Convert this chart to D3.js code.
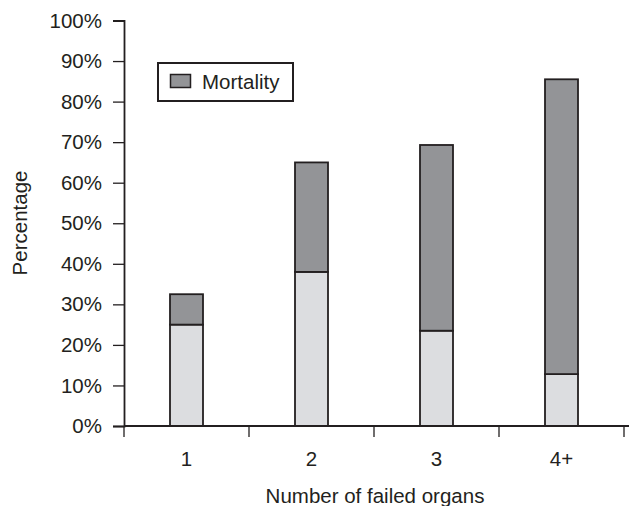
<!DOCTYPE html>
<html>
<head>
<meta charset="utf-8">
<script src="https://cdn.jsdelivr.net/npm/d3@7"></script>
<style>
  html, body { margin: 0; padding: 0; background: #fff; }
  svg { display: block; }
  text { font-family: "Liberation Sans", Arial, sans-serif; fill: #231f20; }
</style>
</head>
<body>
<svg id="chart" width="629" height="506"></svg>
<script>
// Organ failure count vs. percentage of patients
const categories = ["1", "2", "3", "4+"];
const survivedPart = [25, 38, 23.5, 12.8];   // lower (light) segment
const mortalityPart = [7.5, 27, 45.8, 72.7]; // upper (dark) segment
const yTicks = [0, 10, 20, 30, 40, 50, 60, 70, 80, 90, 100];

const svg = d3.select("#chart");
const ink = "#231f20";
const fontSize = 20.5;
const W = 629;
const plotLeft = 124, plotRight = 624, plotTop = 20.5, baseY = 426;

const band = d3.scaleBand().domain(categories).range([plotLeft, plotRight]);
const y = d3.scaleLinear().domain([0, 100]).range([baseY, plotTop]);

// stacked rows
const rows = categories.map((c, i) => ({ cat: c, low: survivedPart[i], high: mortalityPart[i] }));
const stack = d3.stack().keys(["low", "high"])(rows);
const fills = { low: "#dcdde0", high: "#939497" };
const barW = 33;

const g = svg.append("g");
stack.forEach(layer => {
  g.selectAll(null).data(layer).enter().append("rect")
    .attr("x", d => band(d.data.cat) + band.bandwidth() / 2 - barW / 2)
    .attr("width", barW)
    .attr("y", d => y(d[1]))
    .attr("height", d => y(d[0]) - y(d[1]))
    .attr("fill", fills[layer.key])
    .attr("stroke", ink)
    .attr("stroke-width", 1.8);
});

// y axis
const yAxis = svg.append("g")
  .attr("transform", `translate(${plotLeft},0)`)
  .call(d3.axisLeft(y).tickValues(yTicks).tickSize(11).tickPadding(11).tickFormat(d => d + "%"));
yAxis.select(".domain").attr("stroke", ink).attr("stroke-width", 1.8);
yAxis.selectAll(".tick line").attr("stroke", ink).attr("stroke-width", 1.3);
yAxis.selectAll(".tick text").attr("font-size", fontSize).attr("fill", ink)
  .attr("font-family", "Liberation Sans, Arial, sans-serif");

// x axis: ticks at band boundaries, labels at band centres
const xAxisG = svg.append("g").attr("transform", `translate(0,${baseY})`);
xAxisG.append("line")
  .attr("x1", plotLeft).attr("x2", W)
  .attr("stroke", ink).attr("stroke-width", 1.8);
const boundaries = categories.map(c => band(c)).concat([band.range()[1]]);
xAxisG.selectAll(".xt").data(boundaries).enter().append("line")
  .attr("x1", d => d).attr("x2", d => d)
  .attr("y1", 0).attr("y2", 11)
  .attr("stroke", ink).attr("stroke-width", 1.3);
xAxisG.selectAll(".xl").data(categories).enter().append("text")
  .attr("x", d => band(d) + band.bandwidth() / 2)
  .attr("y", 39.5)
  .attr("text-anchor", "middle")
  .attr("font-size", fontSize)
  .text(d => d);

// axis titles
svg.append("text")
  .attr("x", 375).attr("y", 503)
  .attr("text-anchor", "middle")
  .attr("font-size", fontSize)
  .text("Number of failed organs");
svg.append("text")
  .attr("transform", "translate(27,223) rotate(-90)")
  .attr("text-anchor", "middle")
  .attr("font-size", fontSize)
  .text("Percentage");

// legend
const lg = svg.append("g");
lg.append("rect")
  .attr("x", 158).attr("y", 63)
  .attr("width", 135).attr("height", 38)
  .attr("fill", "#fff").attr("stroke", ink).attr("stroke-width", 2);
lg.append("rect")
  .attr("x", 170.5).attr("y", 74.5)
  .attr("width", 20).attr("height", 13)
  .attr("fill", fills.high).attr("stroke", ink).attr("stroke-width", 1.5);
lg.append("text")
  .attr("x", 202).attr("y", 89)
  .attr("font-size", fontSize)
  .text("Mortality");
</script>
</body>
</html>
